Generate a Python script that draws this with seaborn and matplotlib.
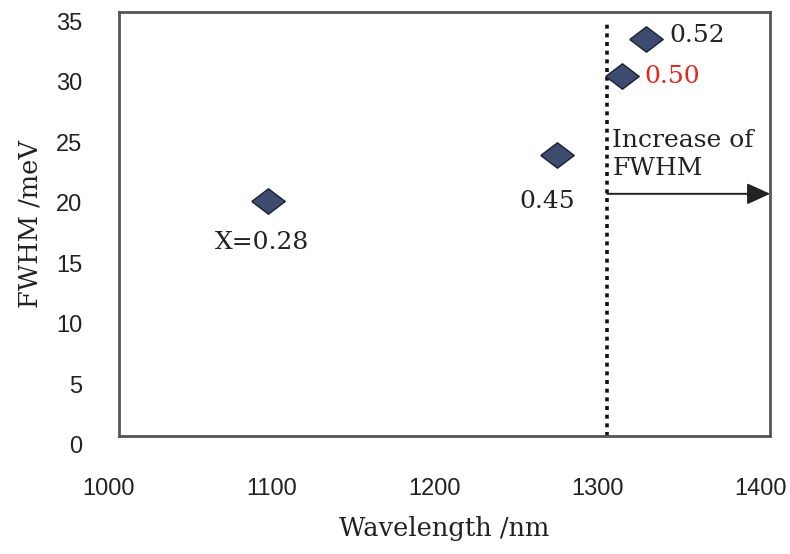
import matplotlib
matplotlib.use("Agg")
import matplotlib.pyplot as plt
import matplotlib.transforms as mtransforms
import pandas as pd
import seaborn as sns

# data
composition = ["X=0.28", "0.45", "0.50", "0.52"]
wavelength_nm = [1092, 1269, 1309, 1324]
fwhm_mev = [19.4, 23.2, 29.7, 32.8]

x_ticks = [1000, 1100, 1200, 1300, 1400]
y_ticks = [0, 5, 10, 15, 20, 25, 30, 35]

cutoff_nm = 1300
arrow_level = 20

sns.set_style("white")
plt.rcParams["font.family"] = ["DejaVu Serif"]

SERIF = "DejaVu Serif"
SANS = "Liberation Sans"
INK = "#222222"
FRAME = "#555555"

df = pd.DataFrame({"wl": wavelength_nm, "fwhm": fwhm_mev, "x": composition})

fig = plt.figure(figsize=(7.9, 5.54), dpi=100)
ax = fig.add_axes([0.150, 0.213, 0.825, 0.765])

diamond = [(-1, 0), (0, 0.76), (1, 0), (0, -0.76), (-1, 0)]
sns.scatterplot(
    data=df, x="wl", y="fwhm", ax=ax,
    marker=diamond, s=580, color="#3c4b6e",
    edgecolor="#1c2233", linewidth=1.0, zorder=3, legend=False,
)

ax.set_xlim(1000, 1400)
ax.set_ylim(0, 35)
ax.set_xticks(x_ticks)
ax.set_yticks(y_ticks)
ax.set_xticklabels([str(t) for t in x_ticks], fontfamily=SANS, fontsize=17, color=INK)
ax.set_yticklabels([str(t) for t in y_ticks], fontfamily=SANS, fontsize=17, color=INK)
ax.tick_params(axis="x", direction="in", length=6, width=0.9, color=FRAME, pad=30)
ax.tick_params(axis="y", direction="in", length=6, width=0.9, color=FRAME, pad=26)

# scanned original has labels nudged off their ticks
dx = mtransforms.ScaledTranslation(-0.10, 0, fig.dpi_scale_trans)
dy = mtransforms.ScaledTranslation(0, -0.09, fig.dpi_scale_trans)
for lab in ax.get_xticklabels():
    lab.set_transform(lab.get_transform() + dx)
for lab in ax.get_yticklabels():
    lab.set_transform(lab.get_transform() + dy)

for sp in ax.spines.values():
    sp.set_color(FRAME)
    sp.set_linewidth(2.0)
ax.grid(False)

ax.set_xlabel("Wavelength /nm", fontfamily=SERIF, fontsize=18.5, color=INK, labelpad=12)
ax.set_ylabel("FWHM /meV", fontfamily=SERIF, fontsize=18.5, color=INK, labelpad=10)

# dotted cutoff line
ax.plot([cutoff_nm, cutoff_nm], [0, 34.3], color="#111111", lw=2.6,
        linestyle=(0, (1.1, 1.3)), dash_capstyle="butt", zorder=2)

# arrow to the right edge
ax.annotate("", xy=(1400, arrow_level), xytext=(cutoff_nm, arrow_level),
            arrowprops=dict(arrowstyle="-|>,head_length=0.55,head_width=0.25",
                            lw=1.4, color=INK, mutation_scale=26,
                            shrinkA=0, shrinkB=0), zorder=4)

txt = dict(fontfamily=SERIF, fontsize=18, color=INK)
ax.text(1088, 16.0, "X=0.28", ha="center", va="center", **txt)
ax.text(1263, 19.4, "0.45", ha="center", va="center", **txt)
ax.text(1338, 33.1, "0.52", ha="left", va="center", **txt)
ax.text(1323, 29.7, "0.50", ha="left", va="center",
        fontfamily=SERIF, fontsize=18, color="#e0281e")
ax.text(1303, 23.25, "Increase of\nFWHM", ha="left", va="center",
        linespacing=1.28, **txt)

fig.savefig("out.png", dpi=100)
